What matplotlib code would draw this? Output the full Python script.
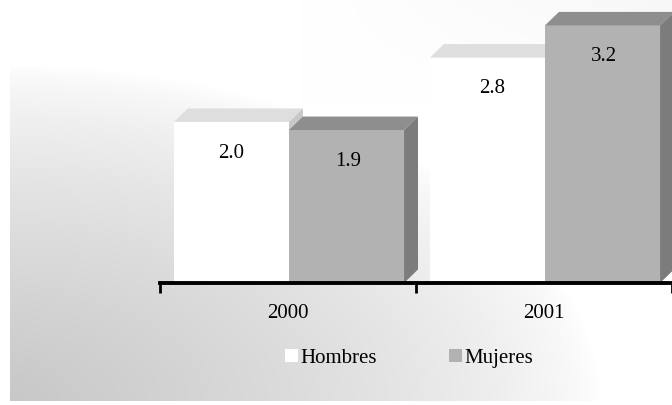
import numpy as np
import matplotlib
matplotlib.use("Agg")
import matplotlib.pyplot as plt
from matplotlib.patches import Polygon, Patch

# ---- data ----
categories = ["2000", "2001"]
series_names = ["Hombres", "Mujeres"]
hombres = [2.0, 2.8]
mujeres = [1.9, 3.2]
value_labels_h = ["2.0", "2.8"]
value_labels_m = ["1.9", "3.2"]

# ---- style ----
W, H = 672, 406
face_colors = {"Hombres": ("#ffffff", "#dedede", "#c8c8c8"),
               "Mujeres": ("#b2b2b2", "#8e8e8e", "#7c7c7c")}
FONT = "Liberation Serif"
FS = 15

fig = plt.figure(figsize=(W / 100, H / 100), dpi=100)

# background gradient
bg = fig.add_axes([0, 0, 1, 1], zorder=0)
yy, xx = np.mgrid[0:H, 0:W]
yb = H - yy
d = np.sqrt((xx / 600.0) ** 2 + (yb / 340.0) ** 2)
g = 1 - 0.22 * np.clip(1 - d, 0, 1) ** 0.7
g = np.minimum(g, 1 - 0.03 * np.clip((xx - 300) / 372.0, 0, 1) * np.clip((yb - 300) / 106.0, 0, 1))
g[:, :10] = 1.0
g[-4:, :] = 1.0
img = np.dstack([g, g, g])
bg.imshow(img, extent=[0, W, 0, H], origin="upper", aspect="auto")
bg.set_axis_off()

# main axes: left at 160 px, baseline at 284 px from top, 80.5 px per unit
base_px = 284
ppu = 80.5
left_px = 160
cat_px = 257
ax = fig.add_axes([left_px / W, (H - base_px) / H, (W - left_px) / W, base_px / H], zorder=1)
ax.patch.set_alpha(0)
ax.set_xlim(-0.5, -0.5 + (W - left_px) / cat_px)
ax.set_ylim(0, base_px / ppu)

bar_w = 115.5 / cat_px
gap = 14 / cat_px
dx = 14 / cat_px
dy = 13.5 / ppu


def bar3d(x0, h, name, z):
    front, top, side = face_colors[name]
    ax.add_patch(Polygon([[x0, 0], [x0 + bar_w, 0], [x0 + bar_w, h], [x0, h]],
                         closed=True, facecolor=front, edgecolor="none", zorder=z))
    ax.add_patch(Polygon([[x0, h], [x0 + bar_w, h], [x0 + bar_w + dx, h + dy], [x0 + dx, h + dy]],
                         closed=True, facecolor=top, edgecolor="none", zorder=z))
    ax.add_patch(Polygon([[x0 + bar_w, 0], [x0 + bar_w + dx, dy], [x0 + bar_w + dx, h + dy], [x0 + bar_w, h]],
                         closed=True, facecolor=side, edgecolor="none", zorder=z))


lab_drop = 30 / ppu
for i, cat in enumerate(categories):
    xh = i - 0.5 + gap
    xm = xh + bar_w
    bar3d(xh, hombres[i], "Hombres", 1 + 2 * i)
    bar3d(xm, mujeres[i], "Mujeres", 2 + 2 * i)
    ax.text(xh + bar_w / 2 + 0.01 * i * 2, hombres[i] - lab_drop, value_labels_h[i], ha="center",
            va="center", fontsize=FS, family=FONT, zorder=10)
    ax.text(xm + bar_w / 2 + 0.005, mujeres[i] - lab_drop, value_labels_m[i], ha="center",
            va="center", fontsize=FS, family=FONT, zorder=10)

# axis line and ticks at category boundaries
for s in ["top", "left", "right"]:
    ax.spines[s].set_visible(False)
ax.spines["bottom"].set_linewidth(2.8)
ax.spines["bottom"].set_zorder(20)
ax.set_yticks([])
ax.set_xticks(np.arange(len(categories) + 1) - 0.5)
ax.tick_params(axis="x", direction="out", length=7, width=2, labelbottom=False)

# category labels
for i, cat in enumerate(categories):
    ax.annotate(cat, xy=(i, 0), xytext=(0, -30), textcoords="offset pixels",
                ha="center", va="center", fontsize=FS, family=FONT)

# legend
handles = [Patch(facecolor=face_colors[n][0], edgecolor="none") for n in series_names]
leg = fig.legend(handles, series_names, loc="center", bbox_to_anchor=(409 / W, 1 - 359 / H),
                 ncol=2, frameon=False, handlelength=0.6, handleheight=0.6, handletextpad=0.1,
                 columnspacing=3.5, prop={"family": FONT, "size": FS})

fig.savefig("out.png", dpi=100)
